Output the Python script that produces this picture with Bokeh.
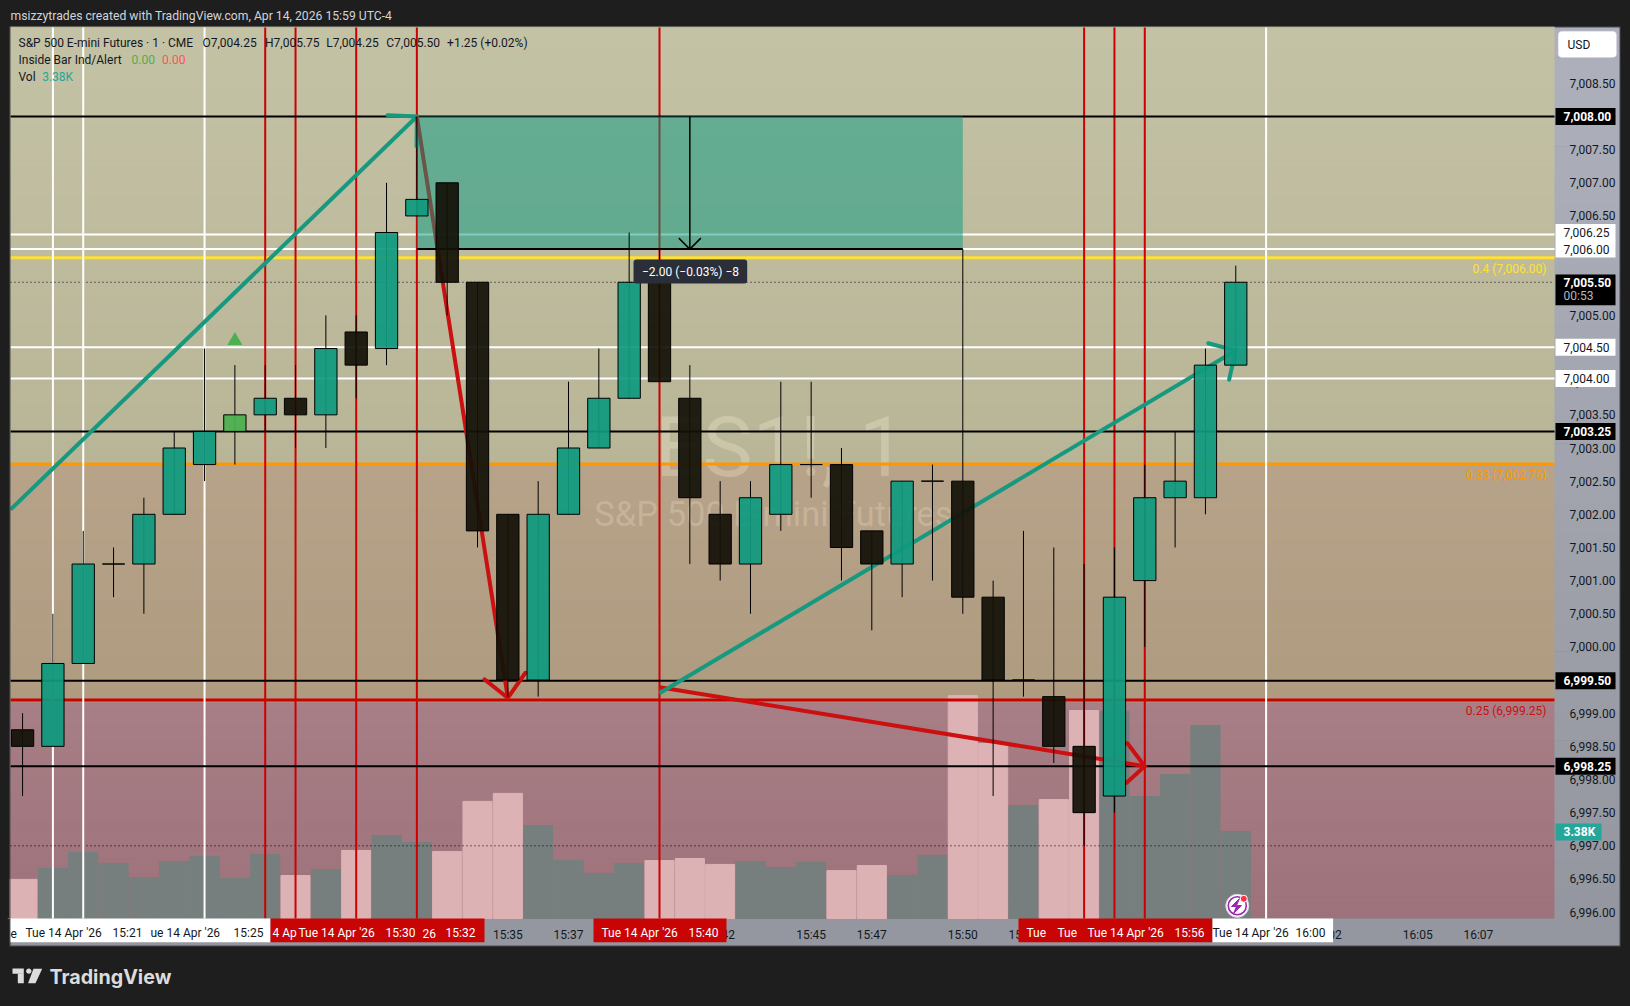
from bokeh.embed import file_html
from bokeh.resources import INLINE
from bokeh.plotting import figure
from bokeh.models import (BoxAnnotation, Label, PolyAnnotation, Range1d, FixedTicker,
                          NumeralTickFormatter, LinearAxis)
import math

# ---------- data (minute = minutes after 15:00) ----------
MINUTES = list(range(19, 60))
OPEN  = [6998.75,6998.5,6999.75,7001.25,7001.25,7002.0,7002.75,7003.25,7003.5,7003.75,7003.5,7004.75,7004.5,7006.5,7007.0,7005.5,7002.0,6999.5,7002.0,7003.0,7003.75,7005.5,7003.75,7002.0,7001.25,7002.0,7002.75,7002.75,7001.75,7001.25,7002.5,7002.5,7000.75,6999.5,6999.25,6998.5,6997.75,7001.0,7002.25,7002.25,7004.25]
HIGH  = [6999.0,7000.5,7001.75,7001.5,7002.25,7003.25,7004.5,7004.25,7004.25,7004.25,7005.0,7005.0,7007.0,7008.0,7007.0,7005.5,7002.0,7002.5,7004.0,7004.5,7006.25,7006.0,7004.25,7002.5,7002.5,7004.0,7004.0,7003.0,7001.75,7002.5,7002.75,7006.0,7001.0,7001.75,7001.5,7001.25,7001.5,7002.75,7003.25,7004.5,7005.75]
LOW   = [6997.75,6998.5,6999.75,7000.75,7000.5,7002.0,7002.5,7002.75,7003.25,7003.0,7003.0,7003.75,7004.25,7006.5,7005.0,7001.5,6999.25,6999.25,7002.0,7003.0,7003.75,7004.0,7001.25,7001.0,7000.5,7001.75,7002.25,7001.0,7000.25,7000.75,7001.0,7000.5,6997.75,6999.25,6998.25,6997.0,6997.5,7000.0,7001.5,7002.0,7004.25]
CLOSE = [6998.5,6999.75,7001.25,7001.25,7002.0,7003.0,7003.25,7003.5,7003.75,7003.5,7004.5,7004.25,7006.25,7006.75,7005.5,7001.75,6999.5,7002.0,7003.0,7003.75,7005.5,7004.0,7002.25,7001.25,7002.25,7002.75,7002.75,7001.5,7001.25,7002.5,7002.5,7000.75,6999.5,6999.5,6998.5,6997.5,7000.75,7002.25,7002.5,7004.25,7005.5]
VOLUME_K = [1.52,1.94,2.56,2.14,1.59,2.21,2.41,1.55,2.49,1.67,1.90,2.64,3.22,2.95,2.60,4.55,4.86,3.61,2.25,1.75,2.14,2.25,2.33,2.10,2.21,1.98,2.18,1.86,2.06,1.67,2.45,8.66,6.80,4.39,4.62,8.08,8.04,4.74,5.59,7.50,3.38]

PRICE_TICKS = [6996+0.5*i for i in range(26)]
TIME_TICKS  = [35,37,42,45,47,50,52,62,65,67]
TIME_LABELS = ["15:35","15:37","15:42","15:45","15:47","15:50","15:52","16:02","16:05","16:07"]

BLACK_LEVELS = [7008.0,7003.25,6999.49,6998.2]
WHITE_LEVELS = [7006.22,7006.0,7004.52,7004.05]
YELLOW_LEVEL, ORANGE_LEVEL, RED_LEVEL = 7005.87, 7002.76, 6999.2
CLOSE_LEVEL, DOT_LEVEL = 7005.5, 6997.0
WHITE_TIMES = [20,21,25,60]
RED_TIMES   = [27,28,30,32,40,54,55,56]

TAG_LEVELS = [7006.25,7006.0,7004.52,7004.05,7008.0,7003.25,6999.49,6998.2]
TAG_TEXTS  = ["7,006.25","7,006.00","7,004.50","7,004.00","7,008.00","7,003.25","6,999.50","6,998.25"]
TAG_DARK   = [False,False,False,False,True,True,True,True]

ARROW_TEAL_1 = dict(x=[18.6,32.0], y=[7002.07,7008.0], barb_x=[31.03,32.0,31.99], barb_y=[7008.02,7008.0,7007.55])
ARROW_RED_1  = dict(x=[32.0,35.0], y=[7008.0,6999.23], barb_x=[34.23,35.0,35.58], barb_y=[6999.51,6999.23,6999.61])
ARROW_RED_2  = dict(x=[40.0,56.0], y=[6999.39,6998.2], barb_x=[55.42,56.0,55.40], barb_y=[6998.55,6998.2,6997.95])
ARROW_TEAL_2 = dict(x=[40.0,59.0], y=[6999.3,7004.47], barb_x=[58.09,59.0,58.78], barb_y=[7004.58,7004.47,7004.03])
MEASURE_X = [32,50]
MEASURE_Y = [7006.0,7008.0]

# ---------- layout helpers ----------
W, H = 1630, 1006
F_L, F_R, F_T, F_B = 10, 1554, 27, 918
PX_MIN, PX_PRICE, PX_VOL = 30.33, 66.3, 25.74
def X(px): return 40+(px-659)/PX_MIN
def Y(py): return 7008-(py-116)/PX_PRICE
X0,X1,Y0,Y1 = X(F_L),X(F_R),Y(F_B),Y(F_T)
def mix(a,b,t):
    ca=[int(a[i:i+2],16) for i in (1,3,5)]; cb=[int(b[i:i+2],16) for i in (1,3,5)]
    return "#%02x%02x%02x"%tuple(round(u+(v-u)*t) for u,v in zip(ca,cb))

FONT="Roboto"
INK="#131722"
p = figure(width=W, height=H, output_backend="svg", toolbar_location=None,
           x_range=Range1d(X(0),X(W)), y_range=Range1d(Y(H),Y(0)),
           x_axis_type=None, y_axis_type=None,
           min_border=0, min_border_left=0, min_border_right=0, min_border_top=0, min_border_bottom=0,
           border_fill_color="#1e1e1e", background_fill_color="#1e1e1e", outline_line_color=None)
p.extra_y_ranges["vol"]=Range1d(-(H-F_B)/PX_VOL,F_B/PX_VOL)

yax=LinearAxis(fixed_location=X(F_R),ticker=FixedTicker(ticks=PRICE_TICKS),formatter=NumeralTickFormatter(format="0,0.00"),major_label_standoff=9)
xax=LinearAxis(fixed_location=Y(F_B),ticker=FixedTicker(ticks=TIME_TICKS),major_label_overrides=dict(zip(TIME_TICKS,TIME_LABELS)),major_label_standoff=3)
for ax in (yax,xax):
    ax.axis_line_color=None; ax.major_tick_line_color=None; ax.minor_tick_line_color=None
    ax.major_label_text_font=FONT; ax.major_label_text_font_size="12px"; ax.major_label_text_color=INK
p.add_layout(yax,"right")
p.add_layout(xax,"below")

def box(l,r,t,b,color,level="annotation",radius=0,line=None,alpha=1.0):
    a=BoxAnnotation(left=X(l),right=X(r),top=Y(t),bottom=Y(b),fill_color=color,fill_alpha=alpha,
                    line_color=line,level=level,border_radius=radius)
    p.add_layout(a); return a
def txt(px,py,s,color=INK,size="12px",align="left",style="normal",alpha=1.0,level="annotation",font=FONT):
    l=Label(x=X(px),y=Y(py),text=s,text_color=color,text_font=font,text_font_size=size,text_align=align,
            text_baseline="middle",text_font_style=style,text_alpha=alpha,level=level)
    p.add_layout(l); return l
def poly(pts,color):
    p.add_layout(PolyAnnotation(xs=[X(a) for a,b in pts],ys=[Y(b) for a,b in pts],fill_color=color,fill_alpha=1,line_color=None,level="annotation"))

# axis strips
box(9,1620,26,946,"#4a4a4e",level="image")
for i in range(30):
    c=mix("#aeb0bc","#94979f",i/29)
    t=27+i*(918-27)/30
    box(F_R,1619,t,t+(918-27)/30+0.5,c,level="underlay")
box(F_L,1619,F_B,945,"#94979f",level="underlay")

# chart background
rows=120
rh=(F_B-F_T)/rows
ys=[];cs=[]
for i in range(rows):
    py=F_T+(i+0.5)*rh
    if py<463:   c=mix("#c4c2a5","#b9b597",(py-27)/(463-27))
    elif py<699: c=mix("#b7a389","#ae9b80",(py-463)/(699-463))
    else:        c=mix("#a87f86","#9e727b",(py-699)/(918-699))
    ys.append(Y(py)); cs.append(c)
p.hbar(y=ys,height=(rh+0.6)/PX_PRICE,left=X0,right=X1,color=cs,level="underlay")

# watermark
txt(780,447,"ES1!, 1","#fff6e0",size="84px",align="center",alpha=0.26,level="underlay")
txt(773,513,"S&P 500 E-mini Futures","#fff6e0",size="34.5px",align="center",alpha=0.22,level="underlay")

# volume
vcol=["#ddb2b5" if c<o else "#767f7e" for o,c in zip(OPEN,CLOSE)]
p.vbar(x=MINUTES,width=0.96,bottom=0,top=VOLUME_K,color=vcol,y_range_name="vol")

# levels
p.segment(x0=X0,x1=X1,y0=[CLOSE_LEVEL,DOT_LEVEL],y1=[CLOSE_LEVEL,DOT_LEVEL],line_color="#000000",line_width=1,line_dash="1 3")
p.segment(x0=X0,x1=X1,y0=WHITE_LEVELS,y1=WHITE_LEVELS,line_color="#ffffff",line_width=2)
p.segment(x0=X0,x1=X1,y0=[YELLOW_LEVEL],y1=[YELLOW_LEVEL],line_color="#ffe135",line_width=3)
p.segment(x0=X0,x1=X1,y0=[ORANGE_LEVEL],y1=[ORANGE_LEVEL],line_color="#ff9800",line_width=3)
p.segment(x0=X0,x1=X1,y0=[RED_LEVEL],y1=[RED_LEVEL],line_color="#cc0000",line_width=3)
p.segment(x0=WHITE_TIMES,x1=WHITE_TIMES,y0=Y0,y1=Y1,line_color="#ffffff",line_width=2)
p.segment(x0=RED_TIMES,x1=RED_TIMES,y0=Y0,y1=Y1,line_color="#cc0000",line_width=2)
p.segment(x0=X0,x1=X1,y0=BLACK_LEVELS,y1=BLACK_LEVELS,line_color="#000000",line_width=2)

# arrows
for a,c in ((ARROW_TEAL_1,"#16997f"),(ARROW_RED_1,"#cc1010"),(ARROW_RED_2,"#cc1010"),(ARROW_TEAL_2,"#16997f")):
    p.line(a["x"],a["y"],line_color=c,line_width=4)
    p.line(a["barb_x"],a["barb_y"],line_color=c,line_width=4,line_cap="round",line_join="miter")

# measure tool
p.quad(left=[MEASURE_X[0]],right=[MEASURE_X[1]],bottom=[MEASURE_Y[0]],top=[MEASURE_Y[1]],fill_color="#089981",fill_alpha=0.5,line_color=None)
p.segment(x0=[MEASURE_X[0]],x1=[MEASURE_X[1]],y0=[MEASURE_Y[0]],y1=[MEASURE_Y[0]],line_color="#000000",line_width=2)
mx=sum(MEASURE_X)/2
p.line([mx,mx],MEASURE_Y[::-1],line_color="#000000",line_width=1.5)
p.line([mx-11/PX_MIN,mx,mx+11/PX_MIN],[MEASURE_Y[0]+11/PX_PRICE,MEASURE_Y[0],MEASURE_Y[0]+11/PX_PRICE],line_color="#000000",line_width=1.5)

# candles
p.segment(x0=MINUTES,x1=MINUTES,y0=LOW,y1=HIGH,line_color="#000000",line_width=1)
body=[("#4caf50" if m==26 else "#0f9a7f") if c>=o else "#131108" for m,o,c in zip(MINUTES,OPEN,CLOSE)]
p.vbar(x=MINUTES,width=0.735,top=[max(a,b) for a,b in zip(OPEN,CLOSE)],bottom=[min(a,b) for a,b in zip(OPEN,CLOSE)],
       fill_color=body,fill_alpha=0.93,line_color="#000000",line_width=1)
p.scatter([26],[7004.62],marker="triangle",size=15,fill_color="#4caf50",line_color=None)

# alert icon
ix,iy=59.05,Y(905.3)
p.scatter([ix],[iy],marker="circle",size=23,fill_color="#ffffff",line_color="#d8d0da",line_width=1)
p.scatter([ix],[iy],marker="circle",size=18,fill_color="#ffffff",line_color="#9c27b0",line_width=1.6)
bx=[1239,1231,1236,1233,1241,1236]; by=[898,906,906,913,905,905]
p.patch([X(a) for a in bx],[Y(b) for b in by],color="#9c27b0")
p.scatter([X(1243.3)],[Y(898.3)],marker="circle",size=7,fill_color="#f23645",line_color="#ffffff",line_width=1)

# frame edge covering the part of the first volume bar that leaves the pane
box(0,9,27,918,"#1e1e1e")
box(9,F_L,26,946,"#4a4a4e")

# legend
txt(10,15,"msizzytrades created with TradingView.com, Apr 14, 2026 15:59 UTC-4","#d1d4dc",size="12.2px")
txt(18,42,"S&P 500 E-mini Futures · 1 · CME")
for x_,s in ((202,"O7,004.25"),(264.5,"H7,005.75"),(325.7,"L7,004.25"),(385.8,"C7,005.50"),(446.6,"+1.25 (+0.02%)")):
    txt(x_,42,s)
txt(18,59,"Inside Bar Ind/Alert"); txt(131,59,"0.00","#4caf50"); txt(161.5,59,"0.00","#ff5252")
txt(18,76,"Vol"); txt(41.7,76,"3.38K","#26a69a")
txt(1546,268,"0.4 (7,006.00)","#ffe135",align="right")
txt(1546,474.7,"0.33 (7,002.75)","#ff9800",align="right")
txt(1546,710,"0.25 (6,999.25)","#cc1010",align="right")

# tooltip
box(633,746.7,259,283,"#2a2e39",radius=3)
txt(690,271,"\u22122.00 (\u22120.03%) \u22128","#ffffff",align="center")

# USD button
box(1557.7,1616,30.7,57,"#ffffff",radius=4,line="#d6d8e0")
txt(1567,44.5,"USD")

# price tags
for pr,s,dark in zip(TAG_LEVELS,TAG_TEXTS,TAG_DARK):
    py=116+(7008-pr)*PX_PRICE
    box(1555,1615,py-8.5,py+8.5,"#000000" if dark else "#ffffff")
    txt(1563,py,s,"#ffffff" if dark else INK,style="bold" if dark else "normal")
box(1555,1615,274,304.7,"#000000")
txt(1563,282,"7,005.50","#ffffff",style="bold"); txt(1563,295.5,"00:53","#b8b8b8")
box(1555,1601,823,840,"#26a69a")
txt(1563,831.5,"3.38K","#ffffff",style="bold")

# time tags
RED="#c90404"
tag_y0,tag_y1=918,941.7
box(10,270,tag_y0,tag_y1,"#ffffff")
box(270,484,tag_y0,tag_y1,RED)
box(593,726,tag_y0,tag_y1,RED)
box(1018,1212,tag_y0,tag_y1,RED)
box(1212,1332.6,tag_y0,tag_y1,"#ffffff")
ty=932.7
for x_,s,c in ((10,"e",INK),(25,"Tue 14 Apr '26",INK),(112,"15:21",INK),(150,"ue 14 Apr '26",INK),(233,"15:25",INK),
               (272,"4 Ap","#fff"),(298,"Tue 14 Apr '26","#fff"),(385,"15:30","#fff"),(422,"26","#fff"),(445,"15:32","#fff"),
               (601,"Tue 14 Apr '26","#fff"),(688,"15:40","#fff"),
               (1026,"Tue","#fff"),(1057,"Tue","#fff"),(1087,"Tue 14 Apr '26","#fff"),(1174,"15:56","#fff"),
               (1212,"Tue 14 Apr '26",INK),(1295,"16:00",INK)):
    txt(x_,ty,s,c)

# footer logo
LOGO="#dcdcdc"
box(12,23.3,968,973.3,LOGO); box(17.3,23.3,973,982.7,LOGO)
poly([(28.3+2.6*math.cos(a*math.pi/8),970.7+2.6*math.sin(a*math.pi/8)) for a in range(16)],LOGO)
poly([(33,968.3),(41.7,968.3),(35,982.7),(27.5,982.7)],LOGO)
txt(49,976.7,"TradingView",LOGO,size="19.7px",style="bold",font="Inter")

open("out.html","w").write(file_html(p, INLINE).replace("<head>","<head><style>html,body{margin:0;padding:0;background:#1e1e1e;overflow:hidden}</style>",1))
